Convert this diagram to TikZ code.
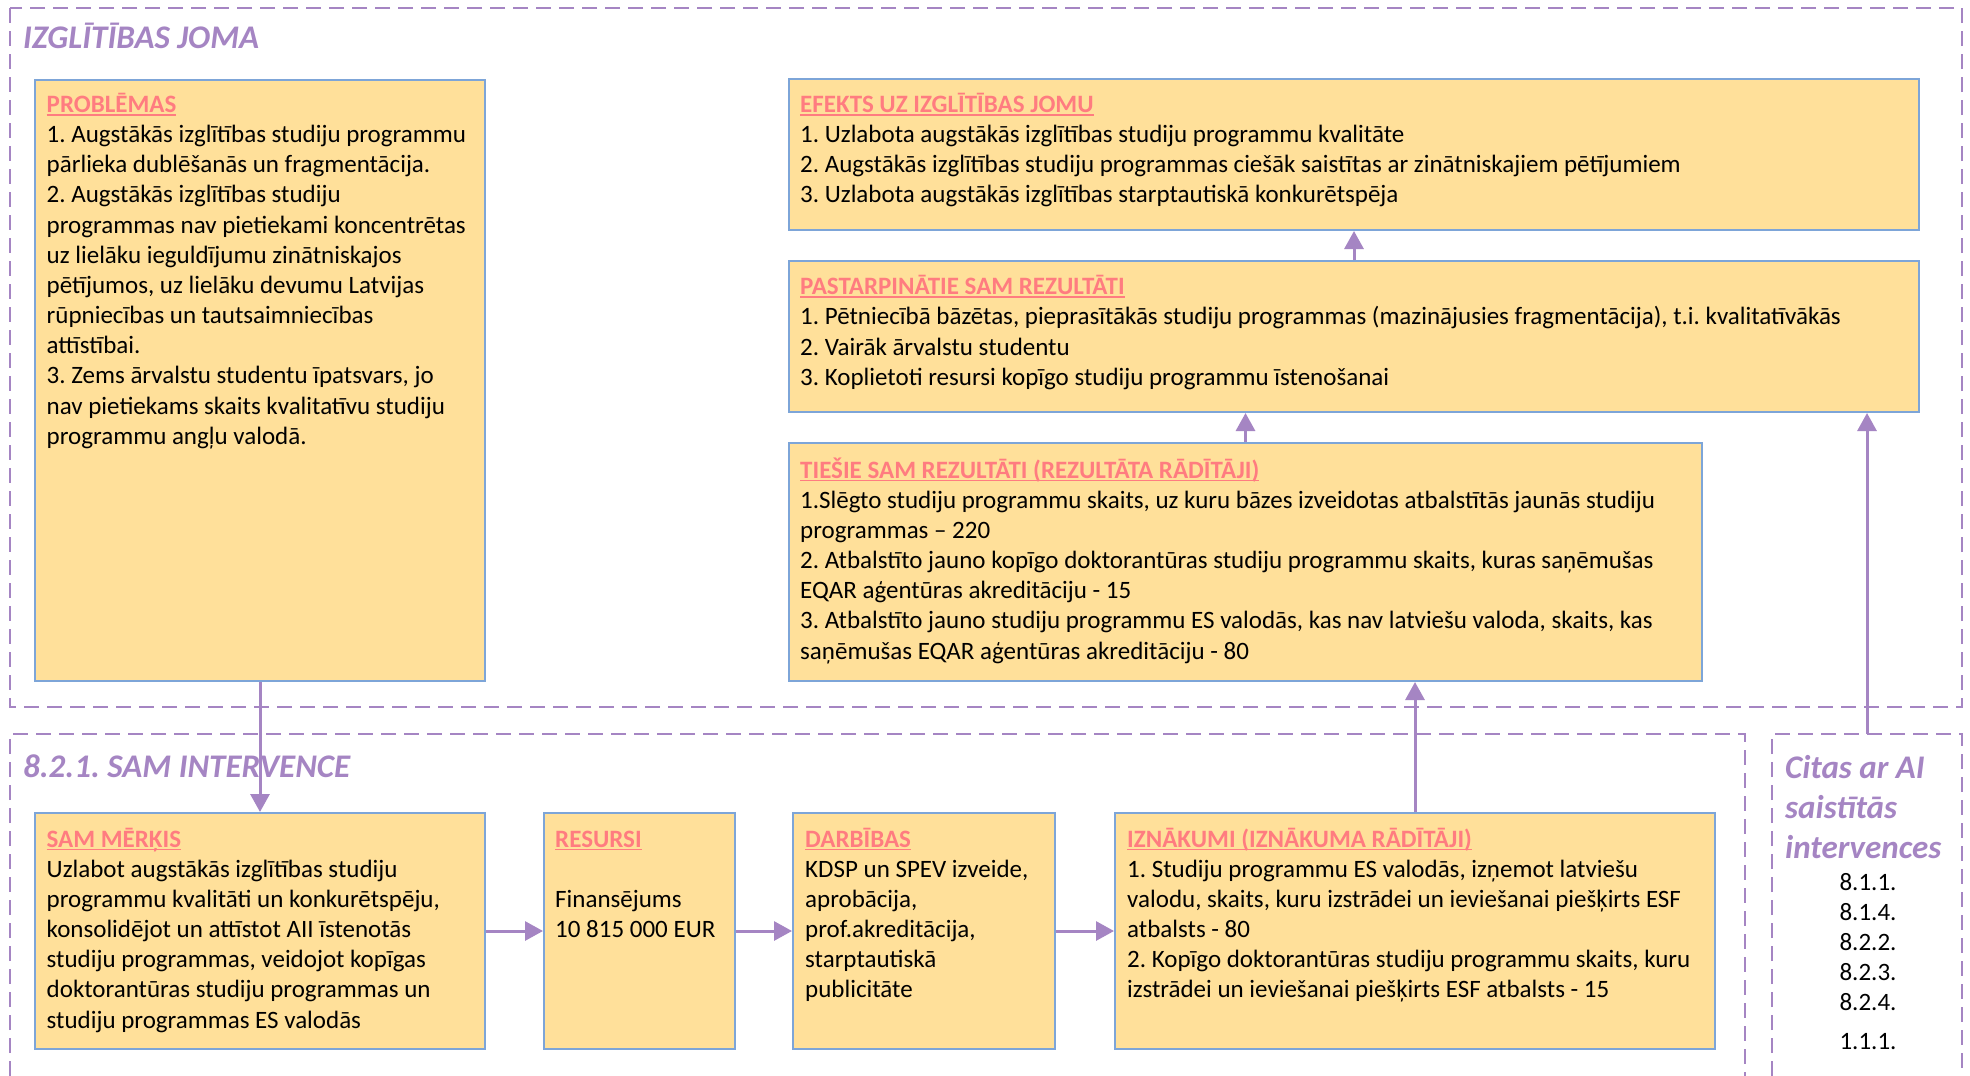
\documentclass[tikz,border=0pt]{standalone}
\usepackage{fontspec}
\setmainfont{Carlito}
\usetikzlibrary{arrows.meta}
\definecolor{boxfill}{HTML}{FFE09A}
\definecolor{boxline}{HTML}{7DA5D8}
\definecolor{hdr}{HTML}{FF7C80}
\definecolor{purp}{HTML}{A585C3}
\newcommand\hd[1]{\textcolor{hdr}{\bfseries\setbox0\hbox{#1}\rlap{\rule[-3pt]{\wd0}{1.5pt}}\box0}}
\newcommand\topstrut{\rule{0pt}{21pt}}
\newcommand\bigtopstrut{\rule{0pt}{28pt}}
\frenchspacing
\begin{document}
\begin{tikzpicture}[x=1pt,y=-1pt,
 box/.style={draw=boxline, line width=2pt, fill=boxfill, inner sep=0pt, anchor=north west},
 zone/.style={draw=purp, line width=2pt, dash pattern=on 15pt off 8pt},
 conn/.style={draw=purp, line width=3pt, -{Triangle[width=19pt,length=18pt]}},
 txt/.style={anchor=north west, align=left, inner sep=0pt, font=\fontsize{25}{30.15}\selectfont},
 ztitle/.style={anchor=north west, inner sep=0pt, text=purp, align=left, font=\fontsize{33}{40}\selectfont\bfseries\itshape},
]
\useasboundingbox (0,0) rectangle (1970,1076);
\fill[white] (0,0) rectangle (1970,1076);

% zones
\draw[zone] (10,8) rectangle (1962,707);
\draw[zone] (10,1076) -- (10,734) -- (1745,734) -- (1745,1076);
\draw[zone] (1772,1076) -- (1772,734) -- (1962,734) -- (1962,1076);
\coordinate (citasTop) at (1867,734);

\node[ztitle] (t1) at (23,20) {\bigtopstrut IZGLĪTĪBAS JOMA};
\node[ztitle] (t2) at (23,749) {\bigtopstrut 8.2.1. SAM INTERVENCE};
\node[ztitle] (t3) at (1785,750) {\bigtopstrut Citas ar AI\\saistītās\\intervences};

% boxes
\node[box, minimum width=450pt, minimum height=601pt] (prob) at (34,79) {};
\node[box, minimum width=1130pt, minimum height=151pt] (efekts) at (788,78) {};
\node[box, minimum width=1130pt, minimum height=151pt] (past) at (788,260) {};
\node[box, minimum width=913pt, minimum height=238pt] (tiesie) at (788,442) {};
\node[box, minimum width=450pt, minimum height=236pt] (merkis) at (34,812) {};
\node[box, minimum width=191pt, minimum height=236pt] (resursi) at (543,812) {};
\node[box, minimum width=262pt, minimum height=236pt] (darbibas) at (792,812) {};
\node[box, minimum width=600pt, minimum height=236pt] (iznakumi) at (1114,812) {};

% texts
\node[txt] (probT) at (46.5,91.3) {\topstrut\hd{PROBLĒMAS}\\
1. Augstākās izglītības studiju programmu\\
pārlieka dublēšanās un fragmentācija.\\
2. Augstākās izglītības studiju\\
programmas nav pietiekami koncentrētas\\
uz lielāku ieguldījumu zinātniskajos\\
pētījumos, uz lielāku devumu Latvijas\\
rūpniecības un tautsaimniecības\\
attīstībai.\\
3. Zems ārvalstu studentu īpatsvars, jo\\
nav pietiekams skaits kvalitatīvu studiju\\
programmu angļu valodā.};

\node[txt] (efektsT) at (800,91.3) {\topstrut\hd{EFEKTS UZ IZGLĪTĪBAS JOMU}\\
1. Uzlabota augstākās izglītības studiju programmu kvalitāte\\
2. Augstākās izglītības studiju programmas ciešāk saistītas ar zinātniskajiem pētījumiem\\
3. Uzlabota augstākās izglītības starptautiskā konkurētspēja};

\node[txt] (pastT) at (800,273.5) {\topstrut\hd{PASTARPINĀTIE SAM REZULTĀTI}\\
1. Pētniecībā bāzētas, pieprasītākās studiju programmas (mazinājusies fragmentācija), t.i. kvalitatīvākās\\
2. Vairāk ārvalstu studentu\\
3. Koplietoti resursi kopīgo studiju programmu īstenošanai};

\node[txt] (tiesieT) at (800,457) {\topstrut\hd{TIEŠIE SAM REZULTĀTI (REZULTĀTA RĀDĪTĀJI)}\\
1.Slēgto studiju programmu skaits, uz kuru bāzes izveidotas atbalstītās jaunās studiju\\
programmas – 220\\
2. Atbalstīto jauno kopīgo doktorantūras studiju programmu skaits, kuras saņēmušas\\
EQAR aģentūras akreditāciju - 15\\
3. Atbalstīto jauno studiju programmu ES valodās, kas nav latviešu valoda, skaits, kas\\
saņēmušas EQAR aģentūras akreditāciju - 80};

\node[txt] (merkisT) at (46.5,826) {\topstrut\hd{SAM MĒRĶIS}\\
Uzlabot augstākās izglītības studiju\\
programmu kvalitāti un konkurētspēju,\\
konsolidējot un attīstot AII īstenotās\\
studiju programmas, veidojot kopīgas\\
doktorantūras studiju programmas un\\
studiju programmas ES valodās};

\node[txt] (resursiT) at (555,826) {\topstrut\hd{RESURSI}\\
\mbox{}\\
Finansējums\\
10 815 000 EUR};

\node[txt] (darbibasT) at (805,826) {\topstrut\hd{DARBĪBAS}\\
KDSP un SPEV izveide,\\
aprobācija,\\
prof.akreditācija,\\
starptautiskā\\
publicitāte};

\node[txt] (iznakumiT) at (1127,826) {\topstrut\hd{IZNĀKUMI (IZNĀKUMA RĀDĪTĀJI)}\\
1. Studiju programmu ES valodās, izņemot latviešu\\
valodu, skaits, kuru izstrādei un ieviešanai piešķirts ESF\\
atbalsts - 80\\
2. Kopīgo doktorantūras studiju programmu skaits, kuru\\
izstrādei un ieviešanai piešķirts ESF atbalsts - 15};

\node[anchor=north, align=center, inner sep=0pt, font=\fontsize{25}{30.15}\selectfont] (nums) at (1868,869) {\topstrut 8.1.1.\\8.1.4.\\8.2.2.\\8.2.3.\\8.2.4.\\[9pt]1.1.1.};

% connectors
\draw[conn] (prob.south) -- (merkis.north);
\draw[conn] (merkis.east) -- (resursi.west);
\draw[conn] (resursi.east) -- (darbibas.west);
\draw[conn] (darbibas.east) -- (iznakumi.west);
\draw[conn] (iznakumi.north) -- (iznakumi.north |- tiesie.south);
\draw[conn] (tiesie.north) -- (tiesie.north |- past.south);
\draw[conn] (past.north) -- (efekts.south);
\draw[conn] (citasTop) -- (citasTop |- past.south);
\end{tikzpicture}
\end{document}
